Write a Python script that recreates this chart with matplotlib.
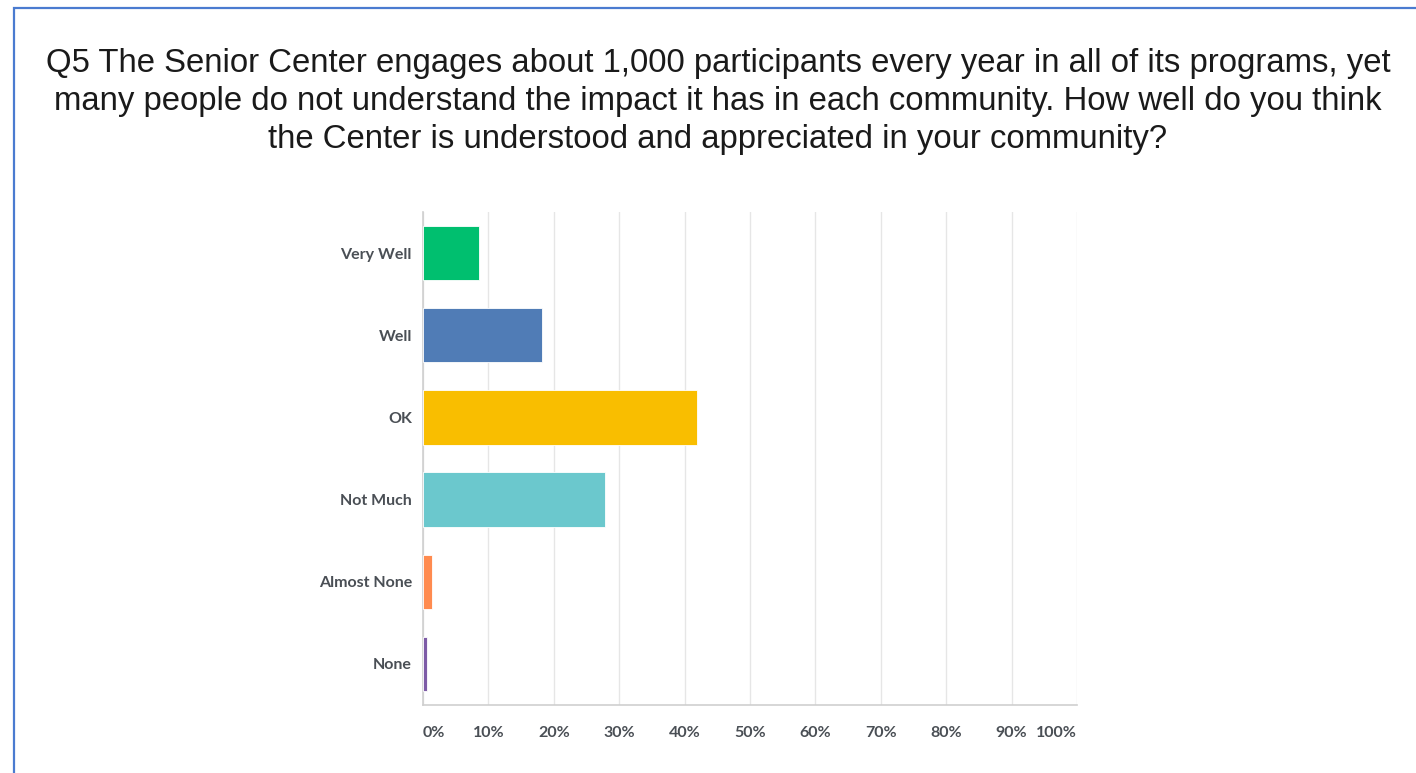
import matplotlib
matplotlib.use('Agg')
import matplotlib.pyplot as plt
from matplotlib.patches import Rectangle

# data
categories = ['Very Well', 'Well', 'OK', 'Not Much', 'Almost None', 'None']
values = [8.6, 18.2, 41.9, 27.8, 1.4, 0.6]
bar_colors = ['#00BF6F', '#507CB6', '#F9BE00', '#6BC8CD', '#FF8B4F', '#7D5BA6']
tick_vals = [0, 10, 20, 30, 40, 50, 60, 70, 80, 90, 100]
tick_labels = ['0%', '10%', '20%', '30%', '40%', '50%', '60%', '70%', '80%', '90%', '100%']
title = ('Q5 The Senior Center engages about 1,000 participants every year in all of its programs, yet\n'
         'many people do not understand the impact it has in each community. How well do you think\n'
         'the Center is understood and appreciated in your community?')

W, H = 1416, 773
fig = plt.figure(figsize=(W / 100, H / 100), dpi=100)
fig.patch.set_facecolor('white')

# blue frame (runs off the right and bottom edges)
fig.patches.append(Rectangle((14 / W, -0.05), 1.1, 1 - 8 / H + 0.05,
                             transform=fig.transFigure, fill=False,
                             edgecolor='#4A7BD0', linewidth=1.6))

fig.text(718 / W, 1 - 101.5 / H, title, ha='center', va='center',
         fontsize=23.7, family='Liberation Sans', color='#1a1a1a', linespacing=1.28)

ax = fig.add_axes([423 / W, 1 - 705 / H, 654 / W, 493 / H])
y = list(range(len(categories)))
ax.barh(y, values, height=0.66, color=bar_colors, edgecolor='white', linewidth=0.6, zorder=3)
ax.set_ylim(len(categories) - 0.5, -0.5)
ax.set_xlim(0, 100)

ax.set_xticks(tick_vals)
ax.set_xticklabels(tick_labels)
ax.set_yticks(y)
ax.set_yticklabels(categories)
for lab in ax.get_xticklabels() + ax.get_yticklabels():
    lab.set_family('Lato')
    lab.set_fontweight('bold')
    lab.set_fontsize(11.5)
    lab.set_color('#4a4f55')
xl = ax.get_xticklabels()
xl[0].set_ha('left')
xl[-1].set_ha('right')

ax.tick_params(axis='both', length=0)
ax.tick_params(axis='x', pad=15)
ax.tick_params(axis='y', pad=8)
ax.grid(axis='x', color='#e6e6e6', linewidth=1, zorder=0)
for s in ['top', 'right']:
    ax.spines[s].set_visible(False)
for s in ['left', 'bottom']:
    ax.spines[s].set_color('#cfcfcf')
    ax.spines[s].set_linewidth(1.2)

fig.savefig('out.png', dpi=100, facecolor='white')
